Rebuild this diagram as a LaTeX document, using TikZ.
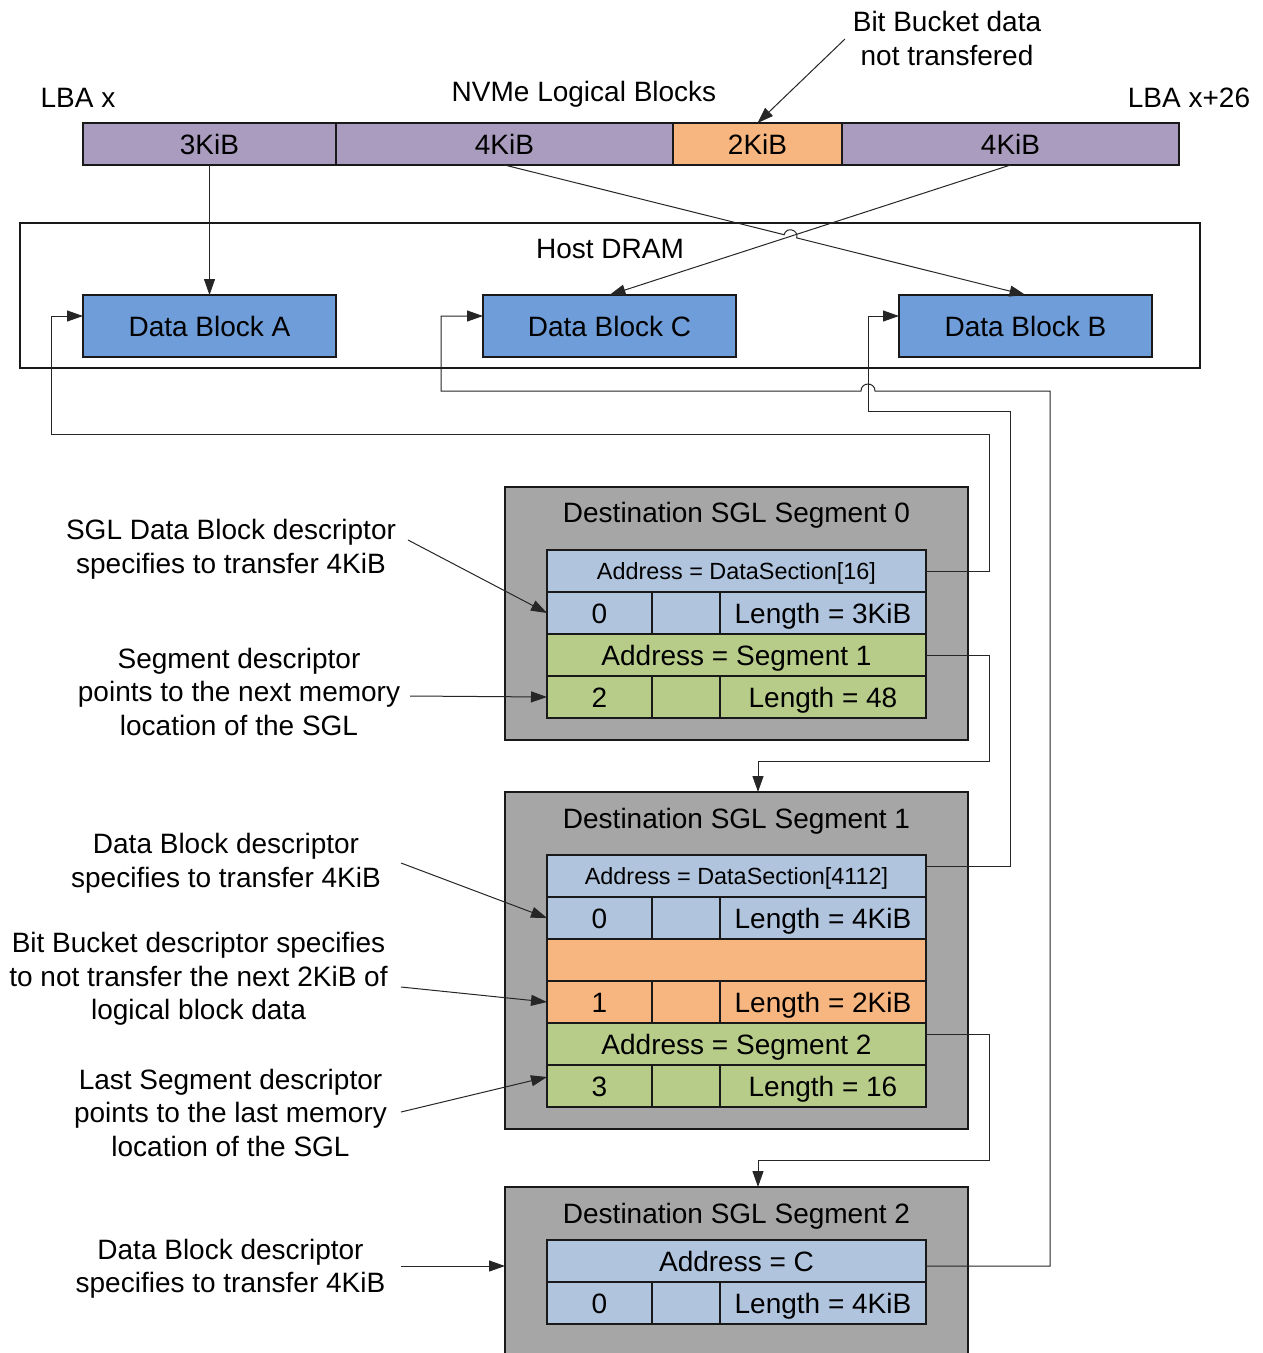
\documentclass[tikz,border=0pt]{standalone}
\usepackage{fontspec}
\setmainfont{Liberation Sans}
\usetikzlibrary{arrows.meta,calc}
\definecolor{barpurple}{HTML}{A99CBE}
\definecolor{bucket}{HTML}{F7B57F}
\definecolor{blockblue}{HTML}{6F9DD9}
\definecolor{descblue}{HTML}{B0C4DE}
\definecolor{descgreen}{HTML}{B8CC8A}
\definecolor{seggray}{HTML}{A6A6A6}
\tikzset{
  bigtext/.style={font=\fontsize{28}{33.5}\selectfont},
  smalltext/.style={font=\fontsize{23.4}{28}\selectfont, text height=16.8pt, text depth=0pt},
  lbl/.style={bigtext, inner sep=0pt, text height=20pt, text depth=0pt},
  box/.style={draw=black!90, line width=1.6pt, inner sep=0pt, outer sep=0pt, bigtext, text height=20pt, text depth=0pt},
  cell/.style={box, minimum height=42pt},
  wide/.style={cell, minimum width=379pt},
  cone/.style={cell, minimum width=105pt},
  ctwo/.style={cell, minimum width=68pt},
  cthree/.style={cell, minimum width=206pt},
  barseg/.style={box, fill=barpurple, minimum height=42pt},
  datablk/.style={box, fill=blockblue, minimum width=253pt, minimum height=62pt},
  segbox/.style={box, fill=seggray, minimum width=463pt},
  conn/.style={draw=black!85, line width=1pt, -{Triangle[length=16pt,width=11pt]}},
  plainline/.style={draw=black!85, line width=1pt},
  note/.style={bigtext, align=center, inner sep=0pt},
}
\begin{document}
\begin{tikzpicture}[x=1pt,y=-1pt]
\fill[white] (0,0) rectangle (1263,1353);
\useasboundingbox (0,0) rectangle (1263,1353);

% top labels
\node[lbl] (lbax) at (78,97) {LBA x};
\node[lbl] (nvme) at (584,91) {NVMe Logical Blocks};
\node[lbl] (lbaend) at (1189,97) {LBA x+26};
\node[note] (bbnote) at (947,38.5) {Bit Bucket data\\not transfered};

% logical block bar
\node[barseg, minimum width=253pt] (s3) at (209.5,144) {3KiB};
\node[barseg, minimum width=337pt] (s4a) at (504.5,144) {4KiB};
\node[barseg, fill=bucket, minimum width=169pt] (s2k) at (757.5,144) {2KiB};
\node[barseg, minimum width=337pt] (s4b) at (1010.5,144) {4KiB};

% host DRAM
\node[box, minimum width=1180pt, minimum height=145pt] (dram) at (610,295.5) {};
\node[lbl] (dramlbl) at (610,248) {Host DRAM};
\node[datablk] (dbA) at (209.5,326) {Data Block A};
\node[datablk] (dbC) at (609.5,326) {Data Block C};
\node[datablk] (dbB) at (1025.5,326) {Data Block B};

% Segment 0
\node[segbox, minimum height=253pt] (seg0) at (736.5,613.5) {};
\node[lbl] (t0) at (736.5,512) {Destination SGL Segment 0};
\node[wide, fill=descblue, smalltext] (s0a) at (736.5,571) {Address = DataSection[16]};
\node[cone, fill=descblue] (s0b1) at (599.5,613) {0};
\node[ctwo, fill=descblue] (s0b2) at (686,613) {};
\node[cthree, fill=descblue] (s0b3) at (823,613) {Length = 3KiB};
\node[wide, fill=descgreen] (s0c) at (736.5,655) {Address = Segment 1};
\node[cone, fill=descgreen] (s0d1) at (599.5,697) {2};
\node[ctwo, fill=descgreen] (s0d2) at (686,697) {};
\node[cthree, fill=descgreen] (s0d3) at (823,697) {Length = 48};

% Segment 1
\node[segbox, minimum height=337pt] (seg1) at (736.5,960.5) {};
\node[lbl] (t1) at (736.5,818) {Destination SGL Segment 1};
\node[wide, fill=descblue, smalltext] (s1a) at (736.5,876) {Address = DataSection[4112]};
\node[cone, fill=descblue] (s1b1) at (599.5,918) {0};
\node[ctwo, fill=descblue] (s1b2) at (686,918) {};
\node[cthree, fill=descblue] (s1b3) at (823,918) {Length = 4KiB};
\node[wide, fill=bucket] (s1c) at (736.5,960) {};
\node[cone, fill=bucket] (s1d1) at (599.5,1002) {1};
\node[ctwo, fill=bucket] (s1d2) at (686,1002) {};
\node[cthree, fill=bucket] (s1d3) at (823,1002) {Length = 2KiB};
\node[wide, fill=descgreen] (s1e) at (736.5,1044) {Address = Segment 2};
\node[cone, fill=descgreen] (s1f1) at (599.5,1086) {3};
\node[ctwo, fill=descgreen] (s1f2) at (686,1086) {};
\node[cthree, fill=descgreen] (s1f3) at (823,1086) {Length = 16};

% Segment 2 (runs off the bottom)
\node[segbox, draw=none, minimum height=166pt] (seg2) at (736.5,1270) {};
\draw[line width=1.6pt, draw=black!90] (seg2.south west) -- (seg2.north west) -- (seg2.north east) -- (seg2.south east);
\node[lbl] (t2) at (736.5,1213) {Destination SGL Segment 2};
\node[wide, fill=descblue] (s2a) at (736.5,1261) {Address = C};
\node[cone, fill=descblue] (s2b1) at (599.5,1303) {0};
\node[ctwo, fill=descblue] (s2b2) at (686,1303) {};
\node[cthree, fill=descblue] (s2b3) at (823,1303) {Length = 4KiB};

% annotations
\node[note] (ann1) at (231,549.5) {SGL Data Block descriptor\\specifies to transfer 4KiB};
\node[note] (ann2) at (239,691.7) {Segment descriptor\\points to the next memory\\location of the SGL};
\node[note] (ann3) at (226,863) {Data Block descriptor\\specifies to transfer 4KiB};
\node[note] (ann4) at (198.5,979) {Bit Bucket descriptor specifies\\to not transfer the next 2KiB of\\logical block data};
\node[note] (ann5) at (230.5,1112.5) {Last Segment descriptor\\points to the last memory\\location of the SGL};
\node[note] (ann6) at (230.5,1268.5) {Data Block descriptor\\specifies to transfer 4KiB};

\coordinate (f1) at (408,540);
\coordinate (f2) at (410,696);
\coordinate (f3) at (401,863);
\coordinate (f4) at (401,987);
\coordinate (f5) at (401,1112);
\coordinate (f6) at (401,1266);
\coordinate (f7) at (845,39);

\draw[conn] (f1) -- (s0b1.west);
\draw[conn] (f2) -- (s0d1.west);
\draw[conn] (f3) -- (s1b1.west);
\draw[conn] (f4) -- (s1d1.west);
\draw[conn] (f5) -- ([yshift=9pt]s1f1.west);
\draw[conn] (f6) -- ([yshift=4pt]seg2.west);
\draw[conn] (f7) -- (s2k.north);

% logical blocks to host DRAM
\draw[conn] (s3.south) -- (dbA.north);
\draw[conn] (s4b.south) -- (dbC.north);
\coordinate (hopA) at (784.1,234.7);
\coordinate (hopB) at (796.7,237.9);
\draw[conn] (s4a.south) -- (hopA) .. controls (786.2,226.3) and (798.8,229.5) .. (hopB) -- (dbB.north);

% descriptors to data blocks
\draw[conn] (s0a.east) -| (989,434) -- (51,434) |- ([yshift=10pt]dbA.west);
\draw[conn] ([yshift=10pt]s1a.east) -| (1010,411) -- (868,411) |- ([yshift=10pt]dbB.west);
\draw[conn] ([yshift=-5pt]s2a.east) -| (1050,391) -- (875,391) .. controls (875,381.7) and (861,381.7) .. (861,391) -- (441,391) |- ([yshift=10pt]dbC.west);

% segment links
\draw[conn] (s0c.east) -| (989,761) -| ([xshift=21.5pt]seg1.north);
\draw[conn] ([yshift=10pt]s1e.east) -| (989,1160) -| ([xshift=21.5pt]seg2.north);
\end{tikzpicture}
\end{document}
